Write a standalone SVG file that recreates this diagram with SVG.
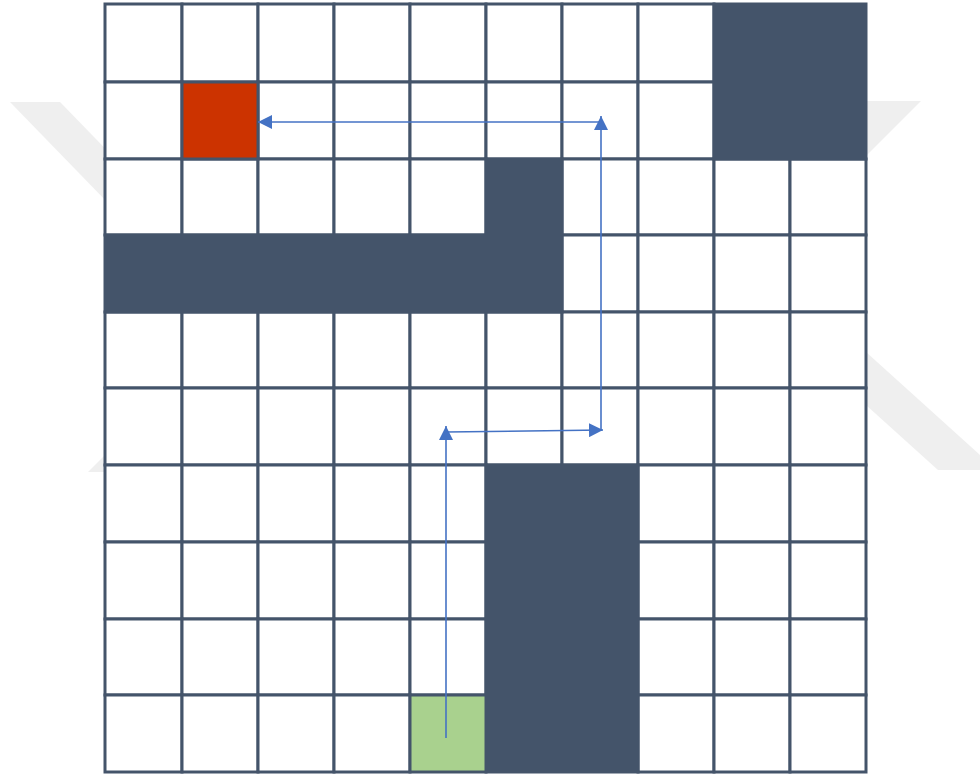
<svg xmlns="http://www.w3.org/2000/svg" width="980" height="774" viewBox="0 0 980 774">
<defs>
<style>
.wm{fill:#efefef;stroke:none}
.cell{fill:#ffffff;stroke:#44546a;stroke-width:3}
.wall{fill:#44546a;stroke:#44546a;stroke-width:3}
.goal{fill:#cc3300;stroke:#44546a;stroke-width:3}
.start{fill:#a9d18e;stroke:#44546a;stroke-width:3}
.arr{fill:none;stroke:#4472c4;stroke-width:1.6;marker-end:url(#ah)}
</style>
<marker id="ah" viewBox="0 0 14 14" refX="14" refY="7" markerWidth="14" markerHeight="14" orient="auto" markerUnits="userSpaceOnUse">
<path d="M0,0 L14,7 L0,14 Z" fill="#4472c4"/>
</marker>
</defs>
<rect width="980" height="774" fill="#ffffff"/>
<g id="watermark">
<polygon class="wm" points="10,102 60,102 160,205 110,205 10,102"/>
<polygon class="wm" points="88,472 108,452 108,472"/>
<polygon class="wm" points="866,101 921,101 866,156"/>
<polygon class="wm" points="866,352 980,455 980,470 938,470 866,405"/>
</g>
<g id="grid">
<rect class="cell" x="105" y="4" width="77" height="78"/><rect class="cell" x="182" y="4" width="76" height="78"/><rect class="cell" x="258" y="4" width="76" height="78"/><rect class="cell" x="334" y="4" width="76" height="78"/><rect class="cell" x="410" y="4" width="76" height="78"/><rect class="cell" x="486" y="4" width="76" height="78"/><rect class="cell" x="562" y="4" width="76" height="78"/><rect class="cell" x="638" y="4" width="76" height="78"/>
<rect class="cell" x="105" y="82" width="77" height="77"/><rect class="cell" x="258" y="82" width="76" height="77"/><rect class="cell" x="334" y="82" width="76" height="77"/><rect class="cell" x="410" y="82" width="76" height="77"/><rect class="cell" x="486" y="82" width="76" height="77"/><rect class="cell" x="562" y="82" width="76" height="77"/><rect class="cell" x="638" y="82" width="76" height="77"/>
<rect class="cell" x="105" y="159" width="77" height="76"/><rect class="cell" x="182" y="159" width="76" height="76"/><rect class="cell" x="258" y="159" width="76" height="76"/><rect class="cell" x="334" y="159" width="76" height="76"/><rect class="cell" x="410" y="159" width="76" height="76"/><rect class="cell" x="562" y="159" width="76" height="76"/><rect class="cell" x="638" y="159" width="76" height="76"/><rect class="cell" x="714" y="159" width="76" height="76"/><rect class="cell" x="790" y="159" width="76" height="76"/>
<rect class="cell" x="562" y="235" width="76" height="77"/><rect class="cell" x="638" y="235" width="76" height="77"/><rect class="cell" x="714" y="235" width="76" height="77"/><rect class="cell" x="790" y="235" width="76" height="77"/>
<rect class="cell" x="105" y="312" width="77" height="76"/><rect class="cell" x="182" y="312" width="76" height="76"/><rect class="cell" x="258" y="312" width="76" height="76"/><rect class="cell" x="334" y="312" width="76" height="76"/><rect class="cell" x="410" y="312" width="76" height="76"/><rect class="cell" x="486" y="312" width="76" height="76"/><rect class="cell" x="562" y="312" width="76" height="76"/><rect class="cell" x="638" y="312" width="76" height="76"/><rect class="cell" x="714" y="312" width="76" height="76"/><rect class="cell" x="790" y="312" width="76" height="76"/>
<rect class="cell" x="105" y="388" width="77" height="77"/><rect class="cell" x="182" y="388" width="76" height="77"/><rect class="cell" x="258" y="388" width="76" height="77"/><rect class="cell" x="334" y="388" width="76" height="77"/><rect class="cell" x="410" y="388" width="76" height="77"/><rect class="cell" x="486" y="388" width="76" height="77"/><rect class="cell" x="562" y="388" width="76" height="77"/><rect class="cell" x="638" y="388" width="76" height="77"/><rect class="cell" x="714" y="388" width="76" height="77"/><rect class="cell" x="790" y="388" width="76" height="77"/>
<rect class="cell" x="105" y="465" width="77" height="77"/><rect class="cell" x="182" y="465" width="76" height="77"/><rect class="cell" x="258" y="465" width="76" height="77"/><rect class="cell" x="334" y="465" width="76" height="77"/><rect class="cell" x="410" y="465" width="76" height="77"/><rect class="cell" x="638" y="465" width="76" height="77"/><rect class="cell" x="714" y="465" width="76" height="77"/><rect class="cell" x="790" y="465" width="76" height="77"/>
<rect class="cell" x="105" y="542" width="77" height="77"/><rect class="cell" x="182" y="542" width="76" height="77"/><rect class="cell" x="258" y="542" width="76" height="77"/><rect class="cell" x="334" y="542" width="76" height="77"/><rect class="cell" x="410" y="542" width="76" height="77"/><rect class="cell" x="638" y="542" width="76" height="77"/><rect class="cell" x="714" y="542" width="76" height="77"/><rect class="cell" x="790" y="542" width="76" height="77"/>
<rect class="cell" x="105" y="619" width="77" height="76"/><rect class="cell" x="182" y="619" width="76" height="76"/><rect class="cell" x="258" y="619" width="76" height="76"/><rect class="cell" x="334" y="619" width="76" height="76"/><rect class="cell" x="410" y="619" width="76" height="76"/><rect class="cell" x="638" y="619" width="76" height="76"/><rect class="cell" x="714" y="619" width="76" height="76"/><rect class="cell" x="790" y="619" width="76" height="76"/>
<rect class="cell" x="105" y="695" width="77" height="77"/><rect class="cell" x="182" y="695" width="76" height="77"/><rect class="cell" x="258" y="695" width="76" height="77"/><rect class="cell" x="334" y="695" width="76" height="77"/><rect class="cell" x="638" y="695" width="76" height="77"/><rect class="cell" x="714" y="695" width="76" height="77"/><rect class="cell" x="790" y="695" width="76" height="77"/>
</g>
<g id="obstacle-top-right"><rect class="wall" x="714" y="4" width="152" height="155"/></g>
<g id="obstacle-middle"><path class="wall" d="M486,159 H562 V312 H105 V235 H486 Z"/></g>
<g id="obstacle-bottom"><rect class="wall" x="486" y="465" width="152" height="307"/></g>
<g id="goal"><rect class="goal" x="182" y="82" width="76" height="77"/></g>
<g id="start"><rect class="start" x="410" y="695" width="76" height="77"/></g>
<g id="connectors">
<line class="arr" x1="446" y1="738" x2="446" y2="426"/>
<line class="arr" x1="446" y1="432" x2="603" y2="430"/>
<line class="arr" x1="601" y1="431" x2="601" y2="116"/>
<line class="arr" x1="601" y1="122" x2="258" y2="122"/>
</g>
</svg>
